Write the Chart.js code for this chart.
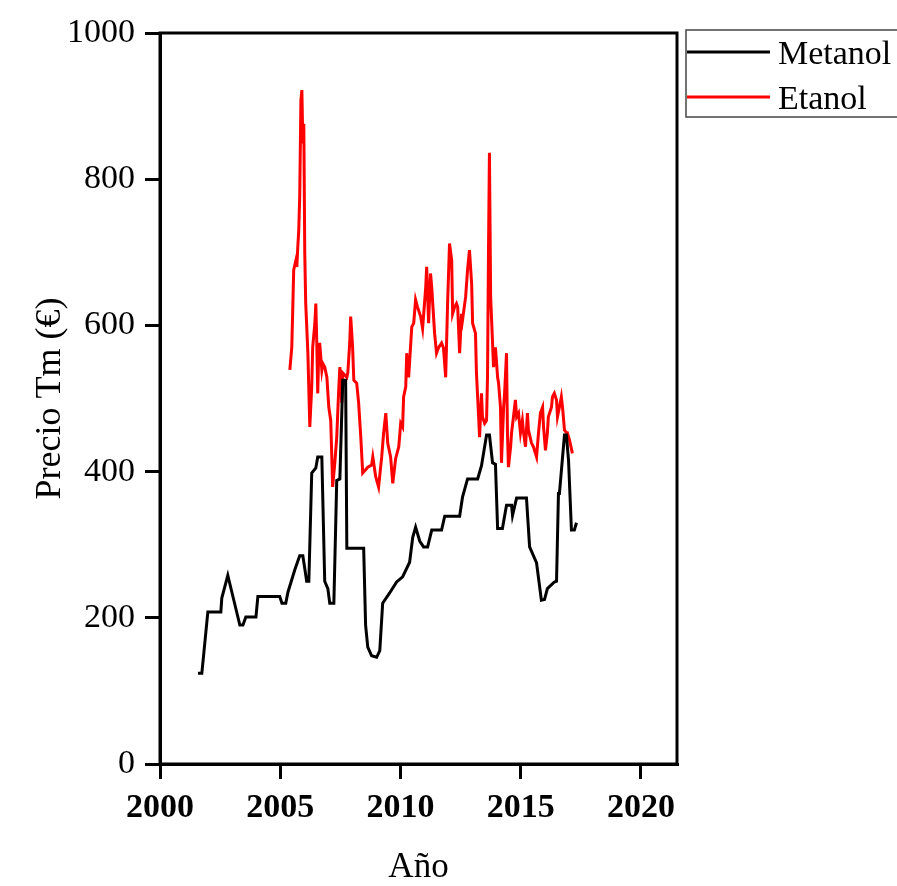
<!DOCTYPE html>
<html>
<head>
<meta charset="utf-8">
<script src="https://cdn.jsdelivr.net/npm/chart.js@4.4.1/dist/chart.umd.min.js"></script>
<style>
  html, body { margin: 0; padding: 0; background: #ffffff; }
  #wrap { width: 897px; height: 886px; }
</style>
</head>
<body>
<div id="wrap"><canvas id="c" width="897" height="886"></canvas></div>
<script>
// ---- Data ----
const seriesLabels = ['Metanol', 'Etanol'];
const seriesColors = ['#000000', '#ff0000'];

const metanolYears = [
  2001.58, 2001.74, 2001.99, 2002.53, 2002.57, 2002.82, 2003.07, 2003.32, 2003.45, 2003.57,
  2003.99, 2004.07, 2004.98, 2005.07, 2005.23, 2005.32, 2005.61, 2005.81, 2005.94, 2006.10,
  2006.19, 2006.31, 2006.48, 2006.56, 2006.73, 2006.85, 2006.98, 2007.06, 2007.23, 2007.35,
  2007.48, 2007.60, 2007.72, 2007.77, 2008.47, 2008.55, 2008.64, 2008.80, 2009.01, 2009.14,
  2009.26, 2009.55, 2009.84, 2010.09, 2010.38, 2010.51, 2010.63, 2010.80, 2010.96, 2011.13,
  2011.30, 2011.71, 2011.84, 2012.46, 2012.58, 2012.79, 2013.21, 2013.37, 2013.58, 2013.70,
  2013.83, 2013.95, 2014.04, 2014.24, 2014.41, 2014.62, 2014.66, 2014.83, 2015.24, 2015.37,
  2015.66, 2015.86, 2015.99, 2016.11, 2016.40, 2016.49, 2016.57, 2016.61, 2016.82, 2016.90,
  2016.99, 2017.11, 2017.23, 2017.32
];
const metanolValues = [
  124, 124, 208, 208, 227, 258, 224, 190, 190, 201,
  201, 229, 229, 220, 220, 235, 266, 285, 285, 250,
  250, 398, 405, 420, 420, 250, 240, 220, 220, 388,
  390, 525, 525, 295, 295, 190, 160, 148, 146, 155,
  220, 234, 249, 256, 276, 310, 324, 305, 297, 297,
  320, 320, 339, 339, 365, 390, 390, 408, 450, 450,
  412, 410, 322, 322, 354, 354, 340, 364, 364, 297,
  275, 224, 225, 240, 249, 250, 370, 370, 450, 450,
  415, 320, 320, 330
];

const etanolYears = [
  2005.40, 2005.48, 2005.52, 2005.56, 2005.65, 2005.69, 2005.73, 2005.77, 2005.81, 2005.86,
  2005.90, 2005.94, 2005.98, 2006.02, 2006.06, 2006.15, 2006.23, 2006.31, 2006.35, 2006.44,
  2006.48, 2006.52, 2006.56, 2006.60, 2006.64, 2006.73, 2006.77, 2006.85, 2006.94, 2007.02,
  2007.10, 2007.14, 2007.18, 2007.27, 2007.35, 2007.43, 2007.48, 2007.56, 2007.60, 2007.77,
  2007.81, 2007.89, 2007.93, 2008.01, 2008.06, 2008.18, 2008.26, 2008.35, 2008.43, 2008.64,
  2008.80, 2008.85, 2008.97, 2009.09, 2009.22, 2009.30, 2009.39, 2009.47, 2009.59, 2009.68,
  2009.80, 2009.93, 2010.01, 2010.09, 2010.13, 2010.22, 2010.26, 2010.34, 2010.47, 2010.55,
  2010.63, 2010.71, 2010.84, 2010.92, 2011.05, 2011.09, 2011.17, 2011.25, 2011.30, 2011.42,
  2011.50, 2011.59, 2011.71, 2011.79, 2011.88, 2011.96, 2012.04, 2012.13, 2012.17, 2012.25,
  2012.33, 2012.38, 2012.46, 2012.54, 2012.58, 2012.71, 2012.79, 2012.87, 2012.96, 2013.00,
  2013.12, 2013.16, 2013.25, 2013.29, 2013.37, 2013.41, 2013.50, 2013.58, 2013.62, 2013.66,
  2013.70, 2013.75, 2013.83, 2013.87, 2013.95, 2014.04, 2014.08, 2014.16, 2014.20, 2014.29,
  2014.33, 2014.41, 2014.45, 2014.49, 2014.58, 2014.62, 2014.70, 2014.78, 2014.83, 2014.91,
  2014.99, 2015.07, 2015.12, 2015.20, 2015.28, 2015.32, 2015.45, 2015.53, 2015.66, 2015.74,
  2015.82, 2015.91, 2015.95, 2016.03, 2016.11, 2016.15, 2016.28, 2016.32, 2016.40, 2016.49,
  2016.53, 2016.61, 2016.69, 2016.74, 2016.82, 2016.90, 2016.94, 2017.03, 2017.15
];
const etanolValues = [
  539, 570, 621, 676, 689, 680, 707, 730, 776, 908,
  922, 849, 876, 699, 630, 562, 461, 516, 570, 603,
  630, 576, 507, 562, 576, 539, 548, 543, 529, 488,
  470, 425, 379, 412, 447, 511, 543, 494, 535, 529,
  535, 576, 612, 570, 525, 521, 494, 447, 398, 406,
  409, 420, 393, 379, 420, 453, 480, 439, 420, 384,
  418, 434, 466, 461, 502, 516, 562, 529, 598, 603,
  635, 625, 612, 596, 652, 680, 603, 671, 652, 589,
  562, 570, 576, 569, 529, 630, 712, 689, 616, 625,
  630, 625, 562, 616, 607, 639, 676, 703, 657, 603,
  589, 535, 475, 447, 507, 475, 466, 470, 529, 699,
  836, 639, 576, 543, 570, 529, 521, 488, 412, 488,
  507, 562, 453, 406, 434, 453, 475, 498, 475, 480,
  453, 470, 453, 434, 480, 457, 439, 434, 420, 453,
  480, 488, 461, 429, 453, 475, 488, 502, 507, 498,
  475, 488, 502, 488, 457, 453, 453, 443, 425
];

const xTickValues = [2000, 2005, 2010, 2015, 2020];
const xTickLabels = ['2000', '2005', '2010', '2015', '2020'];
const yTickValues = [0, 200, 400, 600, 800, 1000];
const yTickLabels = ['0', '200', '400', '600', '800', '1000'];
const xAxisTitle = 'Año';
const yAxisTitle = 'Precio Tm (€)';

// ---- Build datasets ----
const toPoints = (xs, ys) => xs.map((x, i) => ({ x: x, y: ys[i] }));
const seriesData = [toPoints(metanolYears, metanolValues), toPoints(etanolYears, etanolValues)];

const FONT = "'Liberation Serif', 'Times New Roman', serif";

const framePlugin = {
  id: 'frame',
  afterDraw(chart) {
    const { ctx, chartArea: a } = chart;
    ctx.save();
    ctx.strokeStyle = '#000';
    ctx.lineWidth = 3;
    ctx.strokeRect(a.left, a.top, a.right - a.left, a.bottom - a.top);
    ctx.restore();
  }
};

const legendPlugin = {
  id: 'boxLegend',
  afterDraw(chart) {
    const { ctx } = chart;
    ctx.save();
    ctx.strokeStyle = '#444';
    ctx.lineWidth = 1.5;
    ctx.strokeRect(686, 30, 240, 87);
    ctx.font = '34px ' + FONT;
    ctx.textBaseline = 'alphabetic';
    ctx.textAlign = 'left';
    const rows = [52, 97];
    chart.data.datasets.forEach((ds, i) => {
      ctx.strokeStyle = ds.borderColor;
      ctx.lineWidth = 3;
      ctx.beginPath();
      ctx.moveTo(687, rows[i]);
      ctx.lineTo(770, rows[i]);
      ctx.stroke();
      ctx.fillStyle = '#000';
      ctx.fillText(ds.label, 778, rows[i] + 12);
    });
    ctx.restore();
  }
};

new Chart(document.getElementById('c'), {
  type: 'line',
  data: {
    datasets: seriesLabels.map((lab, i) => ({
      label: lab,
      data: seriesData[i],
      borderColor: seriesColors[i],
      backgroundColor: seriesColors[i],
      borderWidth: 3,
      pointRadius: 0,
      tension: 0,
      fill: false
    }))
  },
  options: {
    responsive: false,
    animation: false,
    devicePixelRatio: 1,
    layout: { padding: { left: 0, right: 220, top: 33, bottom: 0 } },
    plugins: { legend: { display: false }, tooltip: { enabled: false } },
    scales: {
      x: {
        type: 'linear',
        min: 2000,
        max: 2021.5,
        afterFit(scale) { scale.height = 122; },
        afterBuildTicks(scale) { scale.ticks = xTickValues.map(v => ({ value: v })); },
        ticks: {
          callback: (v) => { const i = xTickValues.indexOf(v); return i >= 0 ? xTickLabels[i] : ''; },
          font: { family: FONT, size: 34, weight: 'bold' },
          color: '#000',
          padding: 9,
          maxRotation: 0,
          autoSkip: false
        },
        grid: { drawOnChartArea: false, tickLength: 15, color: '#000', lineWidth: 3 },
        border: { display: true, color: '#000', width: 3 },
        title: {
          display: true, text: xAxisTitle, color: '#000',
          font: { family: FONT, size: 35, lineHeight: 1 },
          padding: { top: 0, bottom: 1 }
        }
      },
      y: {
        type: 'linear',
        min: 0,
        max: 1000,
        afterFit(scale) { scale.width = 160; },
        afterBuildTicks(scale) { scale.ticks = yTickValues.map(v => ({ value: v })); },
        ticks: {
          callback: (v) => { const i = yTickValues.indexOf(v); return i >= 0 ? yTickLabels[i] : ''; },
          font: { family: FONT, size: 34 },
          color: '#000',
          padding: 10,
          autoSkip: false
        },
        grid: { drawOnChartArea: false, tickLength: 15, color: '#000', lineWidth: 3 },
        border: { display: true, color: '#000', width: 3 },
        title: {
          display: true, text: yAxisTitle, color: '#000',
          font: { family: FONT, size: 36, lineHeight: 1 },
          padding: { top: 33, bottom: 0 }
        }
      }
    }
  },
  plugins: [framePlugin, legendPlugin]
});
</script>
</body>
</html>
